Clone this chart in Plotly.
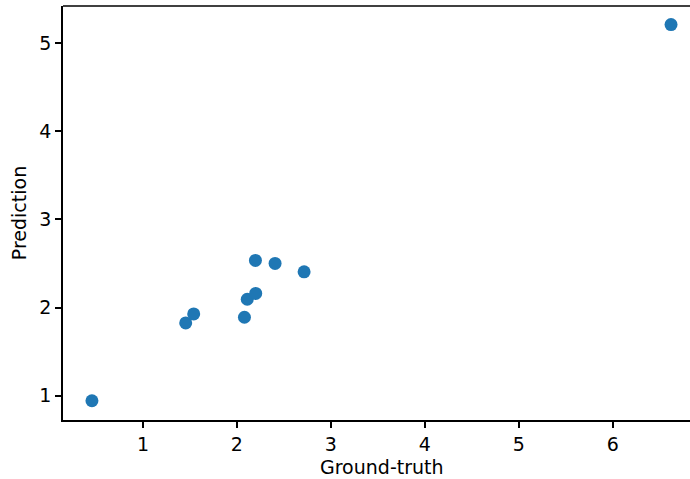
import plotly.graph_objects as go

ground_truth = [0.457, 1.455, 1.540, 2.080, 2.110, 2.200, 2.197, 2.406, 2.715, 6.620]
prediction = [0.943, 1.825, 1.927, 1.890, 2.094, 2.160, 2.534, 2.500, 2.405, 5.208]
x_ticks = [1, 2, 3, 4, 5, 6]
y_ticks = [1, 2, 3, 4, 5]

W, H = 690, 479
ML, MR, MT, MB = 63, 0, 6, 59

fig = go.Figure()
fig.add_trace(go.Scatter(
    x=ground_truth, y=prediction, mode="markers",
    marker=dict(size=13, color="#1f77b4", line=dict(width=0)),
    showlegend=False,
))

font = dict(family="DejaVu Sans", size=19, color="black")
fig.update_layout(
    width=W, height=H,
    margin=dict(l=ML, r=MR, t=MT, b=MB, pad=0),
    paper_bgcolor="white", plot_bgcolor="white",
    font=font,
    xaxis=dict(
        range=[0.149, 6.822], tickvals=x_ticks, ticktext=[str(v) for v in x_ticks],
        showgrid=False, zeroline=False, showline=True, linecolor="black", linewidth=1.5,
        ticks="outside", ticklen=6, tickwidth=1.5, tickcolor="black", mirror=False,
        tickfont=font,
    ),
    yaxis=dict(
        range=[0.725, 5.418], tickvals=y_ticks, ticktext=[str(v) for v in y_ticks],
        showgrid=False, zeroline=False, showline=True, linecolor="black", linewidth=1.5,
        ticks="outside", ticklen=6, tickwidth=1.5, tickcolor="black", mirror=False,
        tickfont=font,
        title=dict(text="Prediction", font=font, standoff=8),
    ),
)
# top spine
fig.add_shape(type="line", xref="paper", yref="paper", x0=0, x1=1, y0=1, y1=1,
              line=dict(color="black", width=1.5))
fig.add_annotation(text="Ground-truth", xref="paper", yref="paper",
                   x=(382 - ML) / (W - ML - MR), y=-(467 - (H - MB)) / (H - MT - MB),
                   xanchor="center", yanchor="middle", showarrow=False, font=font)

fig.write_html("out.html")
